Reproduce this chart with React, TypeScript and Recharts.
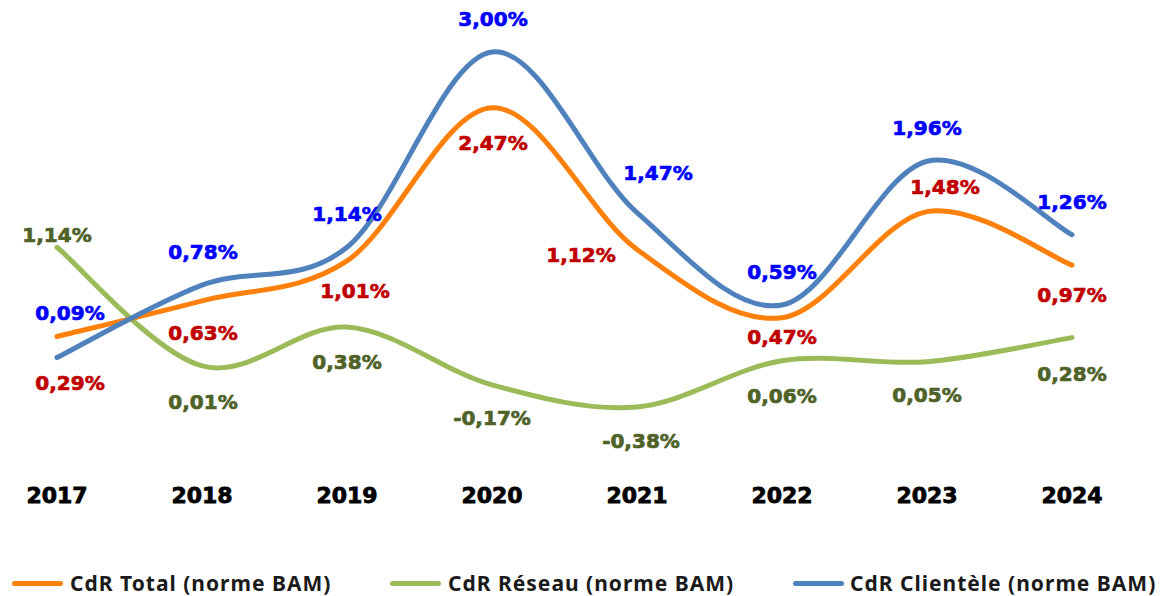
import React from "react";
import { LineChart, Line, XAxis, YAxis, LabelList } from "recharts";

const years = ["2017", "2018", "2019", "2020", "2021", "2022", "2023", "2024"];
const cdrTotal = [0.29, 0.63, 1.01, 2.47, 1.12, 0.47, 1.48, 0.97];
const cdrReseau = [1.14, 0.01, 0.38, -0.17, -0.38, 0.06, 0.05, 0.28];
const cdrClientele = [0.09, 0.78, 1.14, 3.0, 1.47, 0.59, 1.96, 1.26];

const seriesNames = ["CdR Total (norme BAM)", "CdR Réseau (norme BAM)", "CdR Clientèle (norme BAM)"];

// label offsets (dx, dy) relative to each point
const totalLabelOffsets = [[13, 46], [1, 32], [8, 30], [1, 35], [-56, 6], [0, 19], [18, -25], [0, 30]];
const reseauLabelOffsets = [[0, -12], [1, 36], [0, 35], [0, 33], [4, 34], [0, 35], [0, 33], [0, 36]];
const clienteleLabelOffsets = [[13, -45], [1, -33], [0, -33], [1, -33], [21, -40], [0, -33], [0, -33], [0, -33]];

const data = years.map((y, i) => ({
  year: y,
  total: cdrTotal[i],
  reseau: cdrReseau[i],
  clientele: cdrClientele[i],
}));

const ORANGE = "#FF800A";
const GREEN = "#9BBB59";
const BLUE = "#4F81BD";

// Excel-like smoothed curve (Catmull-Rom as Bezier)
const excelCurve = (context: any) => {
  let pts: number[][] = [];
  return {
    areaStart() {},
    areaEnd() {},
    lineStart() {
      pts = [];
    },
    point(x: number, y: number) {
      pts.push([+x, +y]);
    },
    lineEnd() {
      if (!pts.length) return;
      context.moveTo(pts[0][0], pts[0][1]);
      for (let i = 0; i < pts.length - 1; i++) {
        const p0 = pts[i - 1] || pts[i];
        const p1 = pts[i];
        const p2 = pts[i + 1];
        const p3 = pts[i + 2] || p2;
        const c1x = p1[0] + (p2[0] - p0[0]) / 6;
        const c1y = p1[1] + (p2[1] - p0[1]) / 6;
        const c2x = p2[0] - (p3[0] - p1[0]) / 6;
        const c2y = p2[1] - (p3[1] - p1[1]) / 6;
        context.bezierCurveTo(c1x, c1y, c2x, c2y, p2[0], p2[1]);
      }
    },
  };
};

const fmt = (v: number) => v.toFixed(2).replace(".", ",") + "%";

const makeLabel = (color: string, offsets: number[][]) => (props: any) => {
  const { x, y, index, value } = props;
  const [dx, dy] = offsets[index] || [0, 0];
  return (
    <text
      x={x + dx}
      y={y + dy}
      fill={color}
      stroke={color}
      strokeWidth={0.7}
      textAnchor="middle"
      dominantBaseline="central"
      style={{ fontFamily: "DejaVu Sans", fontWeight: 700, fontSize: 20 }}
    >
      {fmt(Number(value))}
    </text>
  );
};

const legendItems = [
  { name: seriesNames[0], color: ORANGE, lineLeft: 4, textLeft: 62 },
  { name: seriesNames[1], color: GREEN, lineLeft: 382, textLeft: 440 },
  { name: seriesNames[2], color: BLUE, lineLeft: 785, textLeft: 842 },
];

export default function App() {
  return (
    <div style={{ position: "relative", width: 1155, height: 588, background: "#fff" }}>
      <LineChart width={1155} height={530} data={data} margin={{ top: 12.5, right: 0, left: 0, bottom: 0 }}>
        <XAxis
          dataKey="year"
          axisLine={false}
          tickLine={false}
          tickMargin={9}
          height={66}
          padding={{ left: 49, right: 91 }}
          tick={{ fill: "#000", stroke: "#000", strokeWidth: 0.8, fontFamily: "DejaVu Sans", fontWeight: 700, fontSize: 22 }}
          interval={0}
        />
        <YAxis hide domain={[-1, 3.3]} />
        <Line
          dataKey="reseau"
          stroke={GREEN}
          strokeWidth={5}
          type={excelCurve as any}
          dot={false}
          isAnimationActive={false}
          strokeLinecap="round"
        >
          <LabelList dataKey="reseau" content={makeLabel("#4F6228", reseauLabelOffsets)} />
        </Line>
        <Line
          dataKey="total"
          stroke={ORANGE}
          strokeWidth={5}
          type={excelCurve as any}
          dot={false}
          isAnimationActive={false}
          strokeLinecap="round"
        >
          <LabelList dataKey="total" content={makeLabel("#C00000", totalLabelOffsets)} />
        </Line>
        <Line
          dataKey="clientele"
          stroke={BLUE}
          strokeWidth={5}
          type={excelCurve as any}
          dot={false}
          isAnimationActive={false}
          strokeLinecap="round"
        >
          <LabelList dataKey="clientele" content={makeLabel("#0000FF", clienteleLabelOffsets)} />
        </Line>
      </LineChart>
      {legendItems.map((it) => (
        <React.Fragment key={it.name}>
          <div
            style={{
              position: "absolute",
              left: it.lineLeft,
              top: 573,
              width: 51,
              height: 5,
              borderRadius: 3,
              background: it.color,
            }}
          />
          <div
            style={{
              position: "absolute",
              left: it.textLeft,
              top: 575,
              transform: "translateY(-50%)",
              fontFamily: "'Noto Sans'",
              fontWeight: 700,
              fontSize: 21,
              letterSpacing: 1,
              color: "#1a1a1a",
              whiteSpace: "nowrap",
              lineHeight: 1,
            }}
          >
            {it.name}
          </div>
        </React.Fragment>
      ))}
    </div>
  );
}
